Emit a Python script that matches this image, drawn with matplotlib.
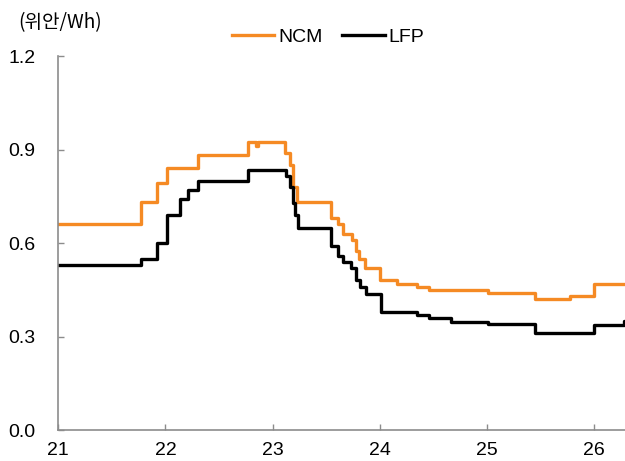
import matplotlib
matplotlib.use("Agg")
from matplotlib import pyplot as plt

# 배터리 셀 가격 (위안/Wh), x = 연도(21 = 2021)
ncm_x = [21.0, 21.77, 21.92, 22.01, 22.30, 22.77, 22.85, 22.86, 23.12, 23.16, 23.19, 23.23,
         23.55, 23.61, 23.66, 23.74, 23.78, 23.81, 23.86, 24.00, 24.16, 24.35, 24.46,
         25.01, 25.45, 25.78, 26.00, 26.29]
ncm_y = [0.66, 0.733, 0.794, 0.842, 0.884, 0.923, 0.912, 0.923, 0.89, 0.85, 0.78, 0.733,
         0.68, 0.66, 0.63, 0.61, 0.575, 0.55, 0.52, 0.48, 0.468, 0.46, 0.45,
         0.44, 0.42, 0.43, 0.468, 0.468]

lfp_x = [21.0, 21.77, 21.92, 22.01, 22.14, 22.21, 22.30, 22.77, 23.125, 23.16, 23.19, 23.21,
         23.24, 23.55, 23.61, 23.66, 23.73, 23.78, 23.82, 23.87, 24.01, 24.35, 24.46,
         24.67, 25.01, 25.45, 26.00, 26.28, 26.29]
lfp_y = [0.53, 0.549, 0.60, 0.69, 0.74, 0.77, 0.80, 0.833, 0.815, 0.78, 0.73, 0.69,
         0.65, 0.59, 0.56, 0.54, 0.52, 0.48, 0.46, 0.435, 0.38, 0.37, 0.36,
         0.348, 0.34, 0.31, 0.337, 0.35, 0.35]

x_ticks = [21, 22, 23, 24, 25, 26]
y_ticks = [0.0, 0.3, 0.6, 0.9, 1.2]

plt.rcParams["font.family"] = ["Liberation Sans", "Noto Sans CJK KR", "DejaVu Sans"]

ORANGE = "#F58A24"
AXIS_GREY = "#8C8C8C"

fig = plt.figure(figsize=(6.25, 4.61), dpi=100)
ax = fig.add_axes([0.0933, 0.0672, 0.9067, 0.811])

ax.plot(ncm_x, ncm_y, drawstyle="steps-post", color=ORANGE, lw=2.4, label="NCM")
ax.plot(lfp_x, lfp_y, drawstyle="steps-post", color="black", lw=2.4, label="LFP")

ax.set_xlim(21, 26.29)
ax.set_ylim(0, 1.2)
ax.set_xticks(x_ticks)
ax.set_xticklabels([str(t) for t in x_ticks])
ax.set_yticks(y_ticks)
ax.set_yticklabels([f"{t:.1f}" for t in y_ticks])

for side in ["top", "right"]:
    ax.spines[side].set_visible(False)
for side in ["left", "bottom"]:
    ax.spines[side].set_color(AXIS_GREY)
    ax.spines[side].set_linewidth(1.2)

ax.tick_params(axis="both", direction="in", length=4, width=1, color=AXIS_GREY,
               labelsize=14, labelcolor="black")
ax.tick_params(axis="x", pad=8.5)
ax.tick_params(axis="y", pad=16.5)

fig.text(0.029, 0.951, "(위안/Wh)", fontsize=13.7,
         family=["Noto Sans CJK KR", "DejaVu Sans"], va="center", ha="left")

fig.legend(loc="center", bbox_to_anchor=(0.525, 0.92), ncol=2, frameon=False,
           fontsize=14, handlelength=2.2, handletextpad=0.2, columnspacing=1.0)

fig.savefig("out.png", dpi=100)
